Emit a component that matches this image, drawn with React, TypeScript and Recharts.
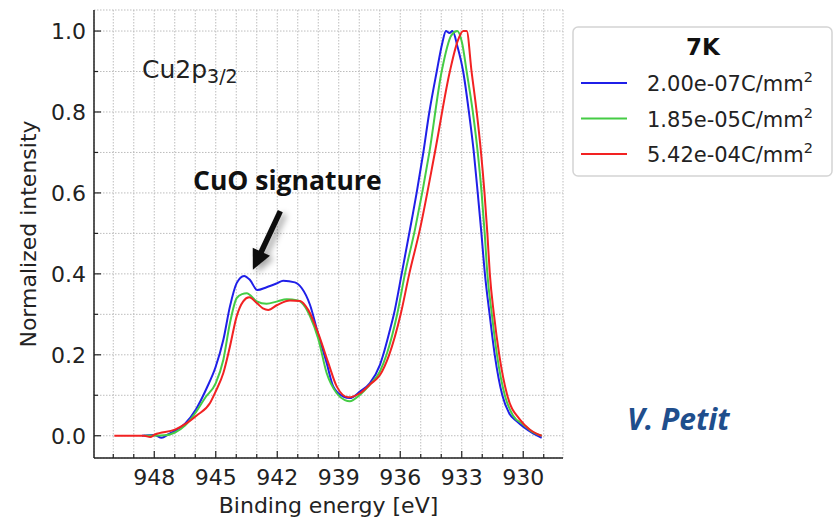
import { LineChart, Line, XAxis, YAxis, CartesianGrid, Legend, ReferenceLine } from 'recharts';

// Cu2p3/2 XPS spectra, 7K, three electron doses
const blueEnergy = [
  948.6, 948.0, 947.64, 947.3, 946.99, 946.5, 945.97, 945.44, 945.0, 944.63,
  944.31, 943.98, 943.62, 943.33, 942.98, 942.52, 942.0, 941.71, 941.14, 940.81,
  940.4, 940.0, 939.59, 939.27, 938.78, 938.46, 937.97, 937.48, 936.99, 936.83,
  936.5, 936.31, 935.93, 935.44, 935.2, 934.88, 934.58, 934.22, 933.95, 933.77,
  933.6, 933.45, 933.2, 932.93, 932.65, 932.41, 932.22, 932.04, 931.87, 931.64,
  931.39, 931.02, 930.68, 930.3, 930.0, 929.5, 929.1,
];
const blueIntensity = [
  0, 0.002, -0.005, 0.004, 0.012, 0.03, 0.065, 0.118, 0.171, 0.237,
  0.319, 0.377, 0.395, 0.385, 0.36, 0.367, 0.377, 0.383, 0.379, 0.365,
  0.323, 0.25, 0.18, 0.122, 0.097, 0.093, 0.109, 0.13, 0.175, 0.2,
  0.262, 0.3, 0.4, 0.533, 0.6, 0.698, 0.8, 0.9, 0.97, 1.0,
  0.995, 1.0, 0.96, 0.9, 0.8, 0.7, 0.6, 0.5, 0.4, 0.3,
  0.2, 0.1, 0.055, 0.035, 0.022, 0.005, -0.005,
];

const greenEnergy = [
  948.5, 947.5, 946.99, 946.5, 945.97, 945.5, 945.0, 944.63, 944.31, 943.98,
  943.72, 943.49, 943.0, 942.52, 942.0, 941.54, 941.0, 940.65, 940.4, 940.0,
  939.59, 939.1, 938.7, 938.46, 937.97, 937.5, 936.99, 936.67, 936.15, 935.77,
  935.28, 934.58, 933.98, 933.5, 933.22, 932.98, 932.76, 932.46, 932.22, 932.03,
  931.88, 931.75, 931.53, 931.28, 930.9, 930.5, 930.0, 929.5, 929.1,
];
const greenIntensity = [
  0, 0.001, 0.008, 0.025, 0.058, 0.095, 0.13, 0.188, 0.278, 0.34,
  0.35, 0.352, 0.332, 0.326, 0.332, 0.337, 0.334, 0.319, 0.295, 0.24,
  0.155, 0.105, 0.088, 0.085, 0.101, 0.125, 0.159, 0.2, 0.3, 0.4,
  0.51, 0.7, 0.9, 0.99, 1.0, 0.97, 0.9, 0.8, 0.7, 0.6,
  0.5, 0.4, 0.3, 0.2, 0.1, 0.05, 0.028, 0.008, 0.0,
];

const redEnergy = [
  949.95, 948.5, 948.2, 947.97, 946.99, 946.42, 945.93, 945.28, 945.0, 944.63,
  944.31, 943.98, 943.66, 943.37, 943.0, 942.7, 942.44, 942.0, 941.38, 940.89,
  940.49, 940.0, 939.51, 939.1, 938.54, 937.97, 937.45, 936.99, 936.54, 935.98,
  935.56, 935.04, 934.31, 933.58, 933.2, 932.93, 932.76, 932.52, 932.27, 932.06,
  931.89, 931.75, 931.63, 931.43, 931.17, 930.78, 930.16, 929.67, 929.1,
];
const redIntensity = [
  0, 0, -0.003, 0.003, 0.015, 0.031, 0.05, 0.081, 0.11, 0.155,
  0.22, 0.295, 0.332, 0.342, 0.328, 0.315, 0.311, 0.323, 0.334, 0.333,
  0.311, 0.253, 0.18, 0.122, 0.095, 0.105, 0.128, 0.15, 0.2, 0.3,
  0.4, 0.51, 0.7, 0.9, 0.975, 1.0, 1.0, 0.9, 0.8, 0.7,
  0.6, 0.5, 0.4, 0.3, 0.2, 0.1, 0.04, 0.015, 0.0,
];

const doseLabels = ['2.00e-07C/mm', '1.85e-05C/mm', '5.42e-04C/mm'];
const xTicks = [929, 930, 931, 932, 933, 934, 935, 936, 937, 938, 939, 940, 941, 942, 943, 944, 945, 946, 947, 948, 949, 950];
const yTicks = [0, 0.1, 0.2, 0.3, 0.4, 0.5, 0.6, 0.7, 0.8, 0.9, 1.0];

const FONT = 'DejaVu Sans';
const INK = '#222';

const zip = (e: number[], v: number[]) => e.map((energy, i) => ({ energy, intensity: v[i] }));

const series = [
  { key: 'low', label: doseLabels[0], color: '#1f1fe8', data: zip(blueEnergy, blueIntensity) },
  { key: 'mid', label: doseLabels[1], color: '#45cc45', data: zip(greenEnergy, greenIntensity) },
  { key: 'high', label: doseLabels[2], color: '#f22222', data: zip(redEnergy, redIntensity) },
];

const isMajorX = (v: number) => Math.round(v) % 3 === 0;
const isMajorY = (v: number) => Math.round(v * 10) % 2 === 0;

const BottomTick = (props: any) => {
  const { x, y, payload } = props;
  const major = isMajorX(payload.value);
  return (
    <g>
      <line x1={x} x2={x} y1={y} y2={y - (major ? 7 : 4)} stroke={INK} strokeWidth={1.2} />
      {major && (
        <text x={x} y={y + 27} textAnchor="middle" fontSize={22} fill={INK} fontFamily={FONT}>
          {payload.value}
        </text>
      )}
    </g>
  );
};

const TopTick = (props: any) => {
  const { x, y, payload } = props;
  const major = isMajorX(payload.value);
  return <line x1={x} x2={x} y1={y} y2={y + (major ? 7 : 4)} stroke={INK} strokeWidth={1.2} />;
};

const LeftTick = (props: any) => {
  const { x, y, payload } = props;
  const major = isMajorY(payload.value);
  return (
    <g>
      <line x1={x} x2={x + (major ? 7 : 4)} y1={y} y2={y} stroke={INK} strokeWidth={1.2} />
      {major && (
        <text x={x - 8} y={y + 8} textAnchor="end" fontSize={22} fill={INK} fontFamily={FONT}>
          {Number(payload.value).toFixed(1)}
        </text>
      )}
    </g>
  );
};

const RightTick = (props: any) => {
  const { x, y, payload } = props;
  const major = isMajorY(payload.value);
  return <line x1={x} x2={x - (major ? 7 : 4)} y1={y} y2={y} stroke={INK} strokeWidth={1.2} />;
};

const Arrow = (props: any) => {
  const { x1, y1, x2, y2 } = props;
  const dx = x2 - x1;
  const dy = y2 - y1;
  const len = Math.hypot(dx, dy) || 1;
  const ux = dx / len;
  const uy = dy / len;
  const head = 20;
  const hw = 9.5;
  const bx = x2 - ux * head;
  const by = y2 - uy * head;
  return (
    <g>
      <defs>
        <filter id="arrowShadow" x="-50%" y="-50%" width="200%" height="200%">
          <feDropShadow dx="4" dy="3" stdDeviation="3" floodColor="#000" floodOpacity="0.35" />
        </filter>
      </defs>
      <g filter="url(#arrowShadow)">
        <line x1={x1} y1={y1} x2={bx + ux * 2} y2={by + uy * 2} stroke="#111" strokeWidth={5.5} />
        <polygon
          points={`${x2},${y2} ${bx - uy * hw},${by + ux * hw} ${bx + uy * hw},${by - ux * hw}`}
          fill="#111"
        />
      </g>
    </g>
  );
};

const LegendBox = () => (
  <svg width={262} height={152} style={{ display: 'block' }}>
    <rect x={1} y={1} width={259} height={149} rx={5} fill="#fff" stroke="#d4d4d4" strokeWidth={1.5} />
    <text x={131} y={29} textAnchor="middle" fontSize={23} fontWeight="bold" fill="#111" fontFamily={FONT}>
      7K
    </text>
    {series.map((s, i) => {
      const cy = 57 + i * 35.5;
      return (
        <g key={s.key}>
          <line x1={9} x2={55} y1={cy} y2={cy} stroke={s.color} strokeWidth={2} />
          <text x={75} y={cy + 8} fontSize={21} fill={INK} fontFamily={FONT}>
            {s.label}
            <tspan fontSize={14.5} dy={-9}>2</tspan>
          </text>
        </g>
      );
    })}
  </svg>
);

export default function App() {
  return (
    <div style={{ position: 'absolute', left: 0, top: 0, width: 840, height: 520, background: '#fff' }}>
      <LineChart width={840} height={520} margin={{ top: 10, right: 277, bottom: 0, left: 0 }}>
        <CartesianGrid stroke="#bdbdbd" strokeDasharray="1.5 1.5" strokeWidth={1} />
        <XAxis
          dataKey="energy"
          type="number"
          domain={[928.06, 950.94]}
          reversed
          allowDataOverflow
          ticks={xTicks}
          interval={0}
          height={62}
          tickSize={0}
          tickMargin={0}
          tick={BottomTick}
          axisLine={{ stroke: INK, strokeWidth: 1.5 }}
        />
        <XAxis
          xAxisId="top"
          orientation="top"
          dataKey="energy"
          type="number"
          domain={[928.06, 950.94]}
          reversed
          allowDataOverflow
          ticks={xTicks}
          interval={0}
          height={0}
          tickSize={0}
          tickMargin={0}
          tick={TopTick}
          axisLine={{ stroke: INK, strokeWidth: 1.5 }}
        />
        <YAxis
          type="number"
          domain={[-0.055, 1.052]}
          allowDataOverflow
          ticks={yTicks}
          interval={0}
          width={94}
          tickSize={0}
          tickMargin={0}
          tick={LeftTick}
          axisLine={{ stroke: INK, strokeWidth: 1.5 }}
        />
        <YAxis
          yAxisId="right"
          orientation="right"
          type="number"
          domain={[-0.055, 1.052]}
          allowDataOverflow
          ticks={yTicks}
          interval={0}
          width={0}
          tickSize={0}
          tickMargin={0}
          tick={RightTick}
          axisLine={{ stroke: INK, strokeWidth: 1.5 }}
        />
        {series.map((s) => (
          <Line
            key={s.key}
            data={s.data}
            dataKey="intensity"
            name={s.label}
            type="monotone"
            stroke={s.color}
            strokeWidth={2}
            dot={false}
            activeDot={false}
            isAnimationActive={false}
          />
        ))}
        <ReferenceLine
          segment={[
            { x: 941.85, y: 0.555 },
            { x: 943.19, y: 0.41 },
          ]}
          shape={Arrow}
          ifOverflow="visible"
        />
        <Legend
          layout="horizontal"
          verticalAlign="middle"
          align="center"
          content={LegendBox}
          wrapperStyle={{ position: 'absolute', left: 572, top: 26, width: 262, height: 152 }}
        />
      </LineChart>
      <svg width={840} height={520} style={{ position: 'absolute', left: 0, top: 0, pointerEvents: 'none' }}>
        <text x={142} y={78} fontSize={25} fill={INK} fontFamily={FONT}>
          Cu2p<tspan fontSize={19} dy={5}>3/2</tspan>
        </text>
        <text x={193} y={190} fontSize={26.5} fontWeight="bold" fill="#111" fontFamily="Open Sans">
          CuO signature
        </text>
        <text x={328.5} y={513} textAnchor="middle" fontSize={22} fill={INK} fontFamily={FONT}>
          Binding energy [eV]
        </text>
        <text
          x={36}
          y={234}
          textAnchor="middle"
          fontSize={22}
          fill={INK}
          fontFamily={FONT}
          transform="rotate(-90 36 234)"
        >
          Normalized intensity
        </text>
        <text x={627} y={430} fontSize={30} fontWeight="bold" fontStyle="italic" fill="#1f4e8c" fontFamily="Open Sans">
          V. Petit
        </text>
      </svg>
    </div>
  );
}
